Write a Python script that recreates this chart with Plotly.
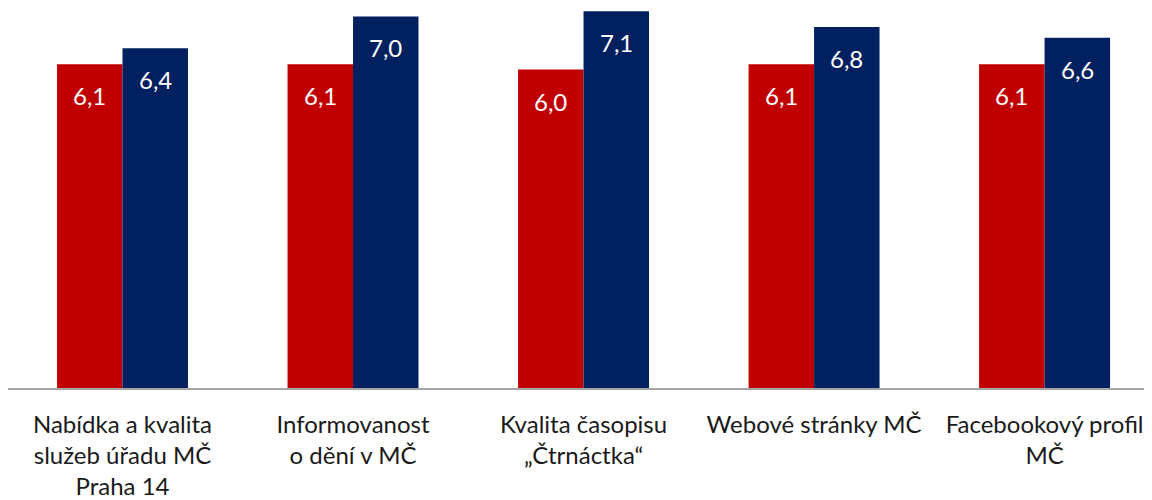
import plotly.graph_objects as go

categories = [
    "Nabídka a kvalita<br>služeb úřadu MČ<br>Praha 14",
    "Informovanost<br>o dění v MČ",
    "Kvalita časopisu<br>„Čtrnáctka“",
    "Webové stránky MČ",
    "Facebookový profil<br>MČ",
]
series_red = [6.1, 6.1, 6.0, 6.1, 6.1]
series_blue = [6.4, 7.0, 7.1, 6.8, 6.6]

RED = "#C00000"
BLUE = "#002060"
FONT = "Lato, 'Open Sans', sans-serif"
GAP = 0.432


def fmt(v):
    return f"{v:.1f}".replace(".", ",")


fig = go.Figure()
for name, vals, color in [("a", series_red, RED), ("b", series_blue, BLUE)]:
    fig.add_trace(go.Bar(
        x=categories, y=vals, name=name,
        marker=dict(color=color, line=dict(width=0)),
        hoverinfo="skip",
    ))

# value labels inside the bars, near the top
for k, vals in enumerate([series_red, series_blue]):
    offset = (-0.25 + k * 0.5) * (1 - GAP)
    for i, v in enumerate(vals):
        fig.add_annotation(
            x=i + offset, y=v, xref="x", yref="y",
            text=fmt(v), showarrow=False, yanchor="top", yshift=-15,
            font=dict(family=FONT, size=24, color="white"),
        )

# page body has an 8px margin, so the figure is sized to fit the window
fig.update_layout(
    width=1144, height=492,
    margin=dict(l=0, r=0, t=0, b=112),
    paper_bgcolor="white", plot_bgcolor="white",
    barmode="group", bargap=GAP, bargroupgap=0,
    showlegend=False,
    font=dict(family=FONT, size=24, color="#1a1a1a"),
)
fig.update_xaxes(
    range=[-0.4967, 4.466],
    showline=True, linecolor="#A6A6A6", linewidth=1.5,
    showgrid=False, ticks="", ticklabelstandoff=14,
    tickfont=dict(family=FONT, size=24, color="#1a1a1a"),
)
fig.update_yaxes(range=[0, 7.16], visible=False, showgrid=False)

fig.write_html("out.html")
